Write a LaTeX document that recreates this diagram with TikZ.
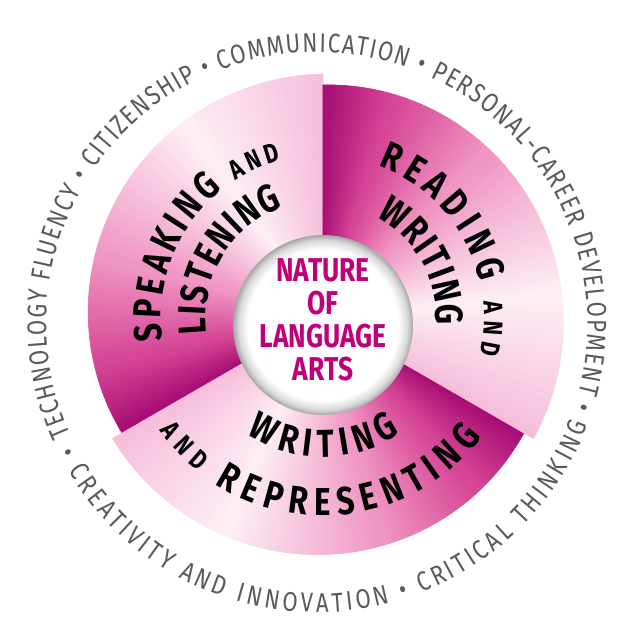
\documentclass[tikz,border=0pt]{standalone}
\usepackage{fontspec}
\usepackage{xcolor}
\usetikzlibrary{decorations.text}

\newfontfamily\petalfont[FakeStretch=0.8]{Fira Sans}
\newfontfamily\hubfont[FakeStretch=0.8]{Fira Sans}
\newfontfamily\ringfont[FakeStretch=0.82]{Fira Sans}

\definecolor{pinkdark}{RGB}{168,14,116}
\definecolor{pinkdeep}{RGB}{214,70,150}
\definecolor{pinkmid}{RGB}{240,150,195}
\definecolor{pinklight}{RGB}{246,190,218}
\definecolor{pinkpale}{RGB}{253,238,245}
\definecolor{hubmagenta}{RGB}{192,0,122}
\definecolor{ringgrey}{RGB}{90,90,90}

\newcommand{\petalbig}{\petalfont\bfseries\fontsize{39}{39}\selectfont}
\newcommand{\petalsmall}{\petalfont\bfseries\fontsize{27}{27}\selectfont}
\newcommand{\hubsize}{\hubfont\bfseries\fontsize{33}{33}\selectfont}
\newcommand{\ringsize}{\ringfont\fontsize{27}{27}\selectfont\color{ringgrey}}

\pgfdeclareradialshading{hubshade}{\pgfpoint{0bp}{0bp}}{color(0bp)=(white); color(21bp)=(white); color(23.5bp)=(gray!30); color(25bp)=(gray!70); color(50bp)=(gray!70)}

\tikzset{
    petalslice/.style={fill=#1, draw=#1, line width=0.6pt, line join=round},
    hubdisc/.style={circle, minimum size=180pt, inner sep=0pt, shade, shading=hubshade},
    hublabel/.style={align=center, text=hubmagenta, font=\hubsize, inner sep=0pt},
    petaltext/.style={decorate, decoration={text along path, text align=fit to path, text={#1}}},
}

% one band of a petal: start angle, first step, last step, colour at first, colour at last
\newcommand{\petalband}[5]{%
    \foreach \k in {#2,...,#3}{%
        \pgfmathtruncatemacro{\mixpc}{100*(#3-\k)/(#3-#2)}%
        \pgfmathsetmacro{\angA}{#1+\k}%
        \pgfmathsetmacro{\angB}{#1+\k+1}%
        \pgfmathsetmacro{\radA}{243-11*\k/120}%
        \pgfmathsetmacro{\radB}{243-11*(\k+1)/120}%
        \filldraw[petalslice=#4!\mixpc!#5] (0,0) -- (\angA:\radA) -- (\angB:\radB) -- cycle;
    }}
\newcommand{\petal}[1]{%
    \petalband{#1}{0}{35}{pinklight}{pinkpale}
    \petalband{#1}{36}{74}{pinkpale}{pinkmid}
    \petalband{#1}{75}{101}{pinkmid}{pinkdeep}
    \petalband{#1}{102}{119}{pinkdeep}{pinkdark}}

\begin{document}
\begin{tikzpicture}[x=1pt, y=1pt]
    \fill[white] (-323,-304) rectangle (294,317);
    \useasboundingbox (-323,-304) rectangle (294,317);

    % Petals
    \petal{90}
    \petal{210}
    \petal{330}

    % Hub
    \node[hubdisc] (hub) at (0,-8) {};
    \node[hublabel] (hubtitle) at (0,-3) {NATURE\\OF\\LANGUAGE\\ARTS};

    % Petal labels
    \path[petaltext={|\petalbig|SPEAKING |\petalsmall|AND}] (188.5:162) arc[start angle=188.5, end angle=105, radius=162pt];
    \path[petaltext={|\petalbig|LISTENING}] (188:117) arc[start angle=188, end angle=110, radius=117pt];
    \path[petaltext={|\petalbig|READING |\petalsmall|AND}] (70:161) arc[start angle=70, end angle=-13.5, radius=161pt];
    \path[petaltext={|\petalbig|WRITING}] (62:113) arc[start angle=62, end angle=-4, radius=113pt];
    \path[petaltext={|\petalbig|WRITING}] (237:140) arc[start angle=237, end angle=303.5, radius=140pt];
    \path[petaltext={|\petalsmall|AND |\petalbig|REPRESENTING}] (214.8:199) arc[start angle=214.8, end angle=323, radius=199pt];

    % Outer ring
    \path[petaltext={|\ringsize|TECHNOLOGY FLUENCY • CITIZENSHIP • COMMUNICATION • PERSONAL-CAREER DEVELOPMENT •}] ([shift={(-6,-6)}]204.4:270.7) arc[start angle=204.4, end angle=-18.4, radius=270.7pt];
    \path[petaltext={|\ringsize|• CREATIVITY AND INNOVATION • CRITICAL THINKING}] ([shift={(-6,-6)}]206.8:289.3) arc[start angle=206.8, end angle=339.5, radius=289.3pt];
\end{tikzpicture}
\end{document}
